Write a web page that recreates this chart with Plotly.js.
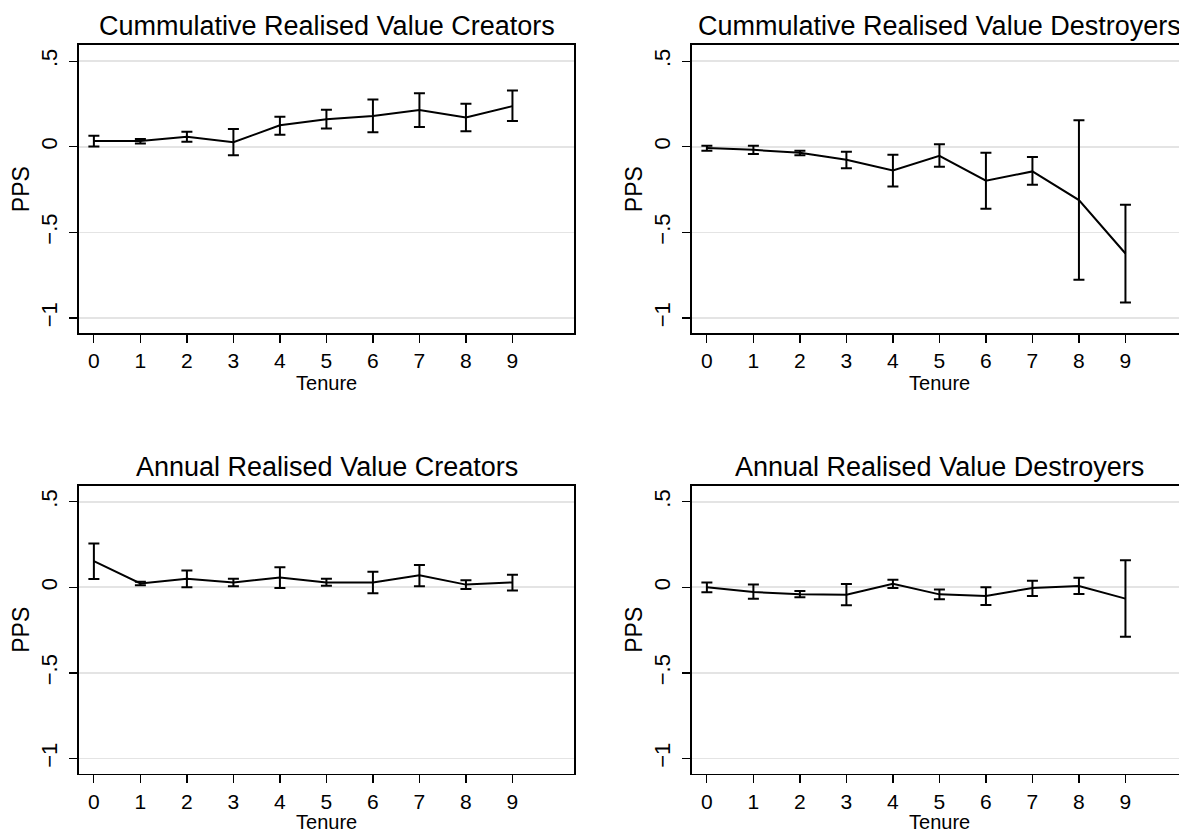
<!DOCTYPE html>
<html>
<head>
<meta charset="utf-8">
<script src="https://cdn.plot.ly/plotly-3.0.1.min.js"></script>
<style>
html, body { margin: 0; padding: 0; overflow: hidden; background: #fff; }
#chart { width: 1200px; height: 833px; }
</style>
</head>
<body>
<div id="chart"></div>
<script>
// Tenure categories
const tenure = [0, 1, 2, 3, 4, 5, 6, 7, 8, 9];

// Panel titles
const panelTitles = [
  "Cummulative Realised Value Creators",
  "Cummulative Realised Value Destroyers",
  "Annual Realised Value Creators",
  "Annual Realised Value Destroyers"
];

// Cumulative creators: point estimate, upper, lower
const cumCreatorsMean  = [0.033, 0.033, 0.058, 0.027, 0.125, 0.161, 0.179, 0.214, 0.171, 0.237];
const cumCreatorsUpper = [0.064, 0.045, 0.088, 0.103, 0.175, 0.216, 0.276, 0.313, 0.251, 0.329];
const cumCreatorsLower = [0.002, 0.019, 0.029, -0.049, 0.070, 0.107, 0.084, 0.115, 0.091, 0.150];

// Cumulative destroyers
const cumDestroyersMean  = [-0.008, -0.018, -0.035, -0.076, -0.138, -0.053, -0.198, -0.144, -0.311, -0.623];
const cumDestroyersUpper = [0.006, 0.006, -0.023, -0.029, -0.047, 0.014, -0.035, -0.060, 0.154, -0.339];
const cumDestroyersLower = [-0.023, -0.043, -0.049, -0.126, -0.232, -0.117, -0.362, -0.222, -0.776, -0.909];

// Annual creators
const annCreatorsMean  = [0.153, 0.023, 0.050, 0.029, 0.058, 0.029, 0.029, 0.070, 0.016, 0.029];
const annCreatorsUpper = [0.256, 0.033, 0.099, 0.050, 0.118, 0.050, 0.091, 0.130, 0.041, 0.074];
const annCreatorsLower = [0.049, 0.012, 0.000, 0.006, -0.004, 0.010, -0.035, 0.006, -0.010, -0.019];

// Annual destroyers
const annDestroyersMean  = [0.000, -0.027, -0.041, -0.043, 0.021, -0.041, -0.050, -0.004, 0.008, -0.066];
const annDestroyersUpper = [0.029, 0.016, -0.021, 0.019, 0.045, -0.012, 0.000, 0.039, 0.056, 0.159];
const annDestroyersLower = [-0.029, -0.066, -0.058, -0.105, -0.004, -0.070, -0.103, -0.050, -0.039, -0.289];

// Axis ticks
const yTickVals = [-1, -0.5, 0, 0.5];
const yTickText = ["\u22121", "\u2212.5", "0", ".5"];
const xTickVals = tenure;
const xTickText = tenure.map(String);
const xAxisTitle = "Tenure";
const yAxisTitle = "PPS";

const series = [
  [cumCreatorsMean, cumCreatorsUpper, cumCreatorsLower],
  [cumDestroyersMean, cumDestroyersUpper, cumDestroyersLower],
  [annCreatorsMean, annCreatorsUpper, annCreatorsLower],
  [annDestroyersMean, annDestroyersUpper, annDestroyersLower]
];

const W = 1200, H = 833;
const FONT = "Liberation Sans, Arial, Helvetica, sans-serif";
// pixel boxes [left, right, top, bottom]
const boxes = [
  [79, 574.3, 45, 333.3],
  [692, 1187.3, 45, 333.3],
  [79, 574.3, 485.7, 773.7],
  [692, 1187.3, 485.7, 773.7]
];

const traces = [];
const layout = {
  width: W, height: H,
  margin: {l: 0, r: 0, t: 0, b: 0},
  paper_bgcolor: "#ffffff",
  plot_bgcolor: "#ffffff",
  showlegend: false,
  font: {family: FONT, color: "#000000"},
  annotations: []
};

series.forEach((s, i) => {
  const [mean, upper, lower] = s;
  const ax = i === 0 ? "" : String(i + 1);
  traces.push({
    type: "scatter",
    mode: "lines",
    x: tenure,
    y: mean,
    xaxis: "x" + ax,
    yaxis: "y" + ax,
    line: {color: "#000000", width: 2},
    error_y: {
      type: "data",
      symmetric: false,
      array: upper.map((u, k) => u - mean[k]),
      arrayminus: mean.map((m, k) => m - lower[k]),
      color: "#000000",
      thickness: 2,
      width: 5.5
    },
    hoverinfo: "x+y"
  });
  const b = boxes[i];
  layout["xaxis" + ax] = {
    domain: [b[0] / W, b[1] / W],
    anchor: "y" + ax,
    range: [-0.32, 10.33],
    tickmode: "array",
    tickvals: xTickVals,
    ticktext: xTickText,
    ticks: "outside",
    ticklen: 8,
    tickwidth: 1.2,
    tickcolor: "#000000",
    tickfont: {size: 21, family: FONT, color: "#000000"},
    showline: true,
    mirror: true,
    linecolor: "#000000",
    linewidth: 1.6,
    showgrid: false,
    zeroline: false,
    title: {text: xAxisTitle, font: {size: 20, family: FONT, color: "#000000"}, standoff: 0}
  };
  layout["yaxis" + ax] = {
    domain: [1 - b[3] / H, 1 - b[2] / H],
    anchor: "x" + ax,
    range: [-1.089, 0.594],
    tickmode: "array",
    tickvals: yTickVals,
    ticktext: yTickText,
    tickangle: -90,
    ticks: "outside",
    ticklen: 8,
    tickwidth: 1.2,
    tickcolor: "#000000",
    tickfont: {size: 22, family: FONT, color: "#000000"},
    ticklabelstandoff: 4,
    showline: true,
    mirror: true,
    linecolor: "#000000",
    linewidth: 1.6,
    showgrid: true,
    gridcolor: "#e4e4e4",
    gridwidth: 1.8,
    zeroline: false,
    title: {text: yAxisTitle, font: {size: 23, family: FONT, color: "#000000"}, standoff: 0}
  };
  layout.annotations.push({
    text: panelTitles[i],
    xref: "paper", yref: "paper",
    x: ((b[0] + b[1]) / 2) / W,
    y: 1 - (b[2] - 19) / H,
    xanchor: "center", yanchor: "middle",
    showarrow: false,
    font: {size: 27, family: FONT, color: "#000000"}
  });
});

Plotly.newPlot("chart", traces, layout, {displayModeBar: false, staticPlot: true});
</script>
</body>
</html>
